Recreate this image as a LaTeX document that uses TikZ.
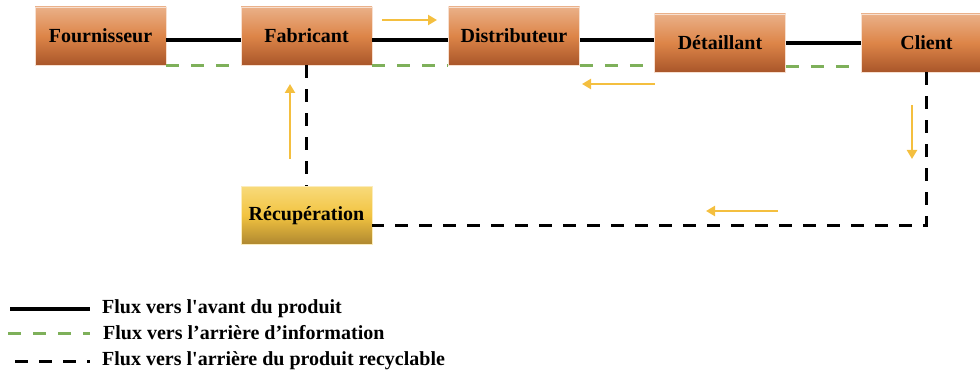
\documentclass[tikz,border=0pt]{standalone}
\usepackage{fontspec}
\setmainfont{Liberation Serif}
\usetikzlibrary{arrows.meta}

\definecolor{orangetop}{HTML}{EAB088}
\definecolor{orangemid}{HTML}{DD8548}
\definecolor{orangebot}{HTML}{A9562A}
\definecolor{goldtop}{HTML}{F8DA7A}
\definecolor{goldmid}{HTML}{F2C340}
\definecolor{goldbot}{HTML}{AE8730}
\definecolor{infogreen}{HTML}{7EB05A}
\definecolor{sensjaune}{HTML}{F4BF3F}

\tikzset{
  acteur/.style={minimum width=131pt, minimum height=58pt, inner sep=0pt,
    draw=orangetop!40, line width=0.8pt, top color=orangetop,
    bottom color=orangebot, middle color=orangemid,
    font=\fontsize{20}{22}\selectfont\bfseries},
  recupbox/.style={acteur, draw=goldtop!50, top color=goldtop,
    bottom color=goldbot, middle color=goldmid},
  avant/.style={line width=4pt},
  info/.style={line width=3pt, infogreen, dash pattern=on 13pt off 12pt},
  recycle/.style={line width=3pt, dash pattern=on 13pt off 11pt},
  sens/.style={line width=2.2pt, sensjaune, -{Triangle[length=9pt,width=10pt]}},
  legende/.style={anchor=west, inner sep=0pt, font=\fontsize{20}{22}\selectfont\bfseries}
}

\begin{document}
\begin{tikzpicture}[x=1pt,y=-1pt]
    \useasboundingbox (0,0) rectangle (980,374);

    % acteurs de la chaine
    \node[acteur] (fourn) at (100.5,36) {Fournisseur};
    \node[acteur] (fabr) at (306.5,36) {Fabricant};
    \node[acteur] (distr) at (514,36) {Distributeur};
    \node[acteur] (detail) at (720,43) {Détaillant};
    \node[acteur] (client) at (926.5,43) {Client};
    \node[recupbox] (recup) at (306.5,215.5) {Récupération};

    % flux vers l'avant
    \draw[avant] ([yshift=-4]fourn.east) -- ([yshift=-4]fabr.west);
    \draw[avant] ([yshift=-4]fabr.east) -- ([yshift=-4]distr.west);
    \draw[avant] ([yshift=-4]distr.east) -- ([yshift=-4]distr.east -| detail.west);
    \draw[avant] (detail) -- (client);

    % flux d'information
    \draw[info] (fourn.south east) -- (fabr.south west);
    \draw[info] (fabr.south east) -- (distr.south west);
    \draw[info] (distr.south east) -- (distr.south -| detail.west);
    \draw[info] ([yshift=6]detail.south east) -- ([yshift=6]client.south west);

    % flux de recyclage
    \draw[recycle] (fabr.south) -- (recup.north);
    \draw[recycle] (client.south) |- ([yshift=-10]recup.east);

    % sens des flux
    \draw[sens] (382,20) -- (437,20);
    \draw[sens] (655,84) -- (582,84);
    \draw[sens] (912,105) -- (912,159);
    \draw[sens] (778,211) -- (706,211);
    \draw[sens] (290,159) -- (290,84);

    % legende
    \coordinate (l1a) at (10,309);
    \coordinate (l1b) at (90,309);
    \coordinate (l2a) at (8,333);
    \coordinate (l2b) at (90,333);
    \coordinate (l3a) at (15,361);
    \coordinate (l3b) at (90,361);
    \draw[avant] (l1a) -- (l1b);
    \draw[info] (l2a) -- (l2b);
    \draw[recycle] (l3a) -- (l3b);
    \node[legende] (t1) at (102,309) {Flux vers l\textquotesingle avant du produit};
    \node[legende] (t2) at (103,333) {Flux vers l’arrière d’information};
    \node[legende] (t3) at (102,361) {Flux vers l\textquotesingle arrière du produit recyclable};
\end{tikzpicture}
\end{document}
